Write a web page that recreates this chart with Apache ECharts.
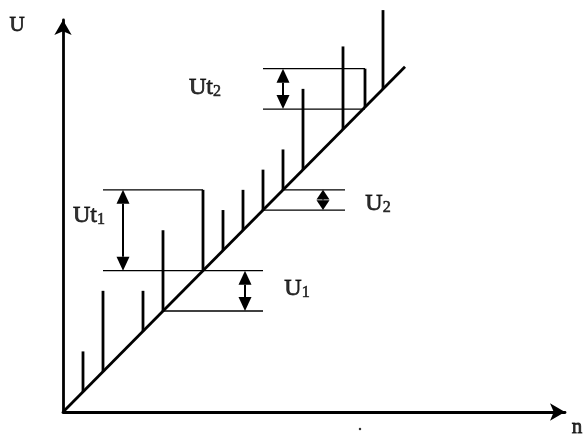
<!DOCTYPE html>
<html lang="en">
<head>
    <meta charset="UTF-8">
    <title>U - n</title>
    <style>
        html, body { margin: 0; padding: 0; background: #fff; }
        #main { width: 584px; height: 436px; }
    </style>
</head>
<body>
<div id="main"></div>
<script src="https://cdn.jsdelivr.net/npm/echarts@6/dist/echarts.min.js"></script>
<script>
    // spikes: position on n and top value of U (each one starts on the line U = n)
    const spikeN   = [1, 2, 4, 5, 7, 8, 9, 10, 11, 12, 14, 15.1, 16];
    const spikeTop = [3, 6, 6, 9, 11, 10, 11, 12, 13, 16, 18.1, 17, 19.9];

    // the sloped line U = n
    const slopeN = [0, 17.1];

    // thin horizontal guide lines: level U, from n, to n
    const guideU    = [11, 7, 5, 11, 10, 17, 15];
    const guideFrom = [2, 2, 5, 11, 10, 10, 10];
    const guideTo   = [7, 10, 10, 14.1, 14.1, 15.1, 15.1];

    // double arrows: at n, from U, to U
    const arrowN    = [3, 9.1, 13, 11];
    const arrowLow  = [7, 5, 10, 15];
    const arrowHigh = [11, 7, 11, 17];

    // text labels (main part + subscript) and where they sit
    const labelMain = ['U', 'n', 'Ut', 'Ut', 'U', 'U'];
    const labelSub  = ['', '', '1', '2', '1', '2'];
    const labelN    = [-2.3, 25.7, 1.3, 7.1, 11.7, 15.75];
    const labelU    = [19.15, -0.75, 9.7, 16.05, 6.1, 10.3];

    // a speck of dust under the n axis
    const speckN = [14.85];
    const speckU = [-0.84];

    const font = 'Liberation Serif';
    const ink = '#000';

    const myChart = echarts.init(document.getElementById('main'));

    const axisCommon = {
        type: 'value',
        min: 0,
        axisLine: {
            show: true,
            symbol: ['none', 'arrow'],
            symbolSize: [13, 15],
            lineStyle: { color: ink, width: 2.8 }
        },
        axisTick: { show: false },
        axisLabel: { show: false },
        splitLine: { show: false }
    };

    const option = {
        animation: false,
        backgroundColor: '#fff',
        grid: { left: 63, top: 20, width: 502, height: 392 },
        xAxis: Object.assign({}, axisCommon, { max: 25.1 }),
        yAxis: Object.assign({}, axisCommon, { max: 19.41 }),
        series: [
            {
                // U = n
                type: 'line',
                data: slopeN.map(n => [n, n]),
                showSymbol: false,
                lineStyle: { color: ink, width: 2.8 },
                z: 3
            },
            {
                // spikes
                type: 'custom',
                data: spikeN.map((n, i) => [n, spikeTop[i]]),
                renderItem: function (params, api) {
                    const n = api.value(0);
                    const p0 = api.coord([n, n]);
                    const p1 = api.coord([n, api.value(1)]);
                    return {
                        type: 'line',
                        shape: { x1: p0[0], y1: p0[1], x2: p1[0], y2: p1[1] },
                        style: { stroke: ink, lineWidth: 2.8 }
                    };
                },
                z: 4
            },
            {
                // guide lines
                type: 'custom',
                data: guideU.map((u, i) => [u, guideFrom[i], guideTo[i]]),
                encode: { x: [1, 2], y: 0 },
                renderItem: function (params, api) {
                    const u = api.value(0);
                    const a = api.coord([api.value(1), u]);
                    const b = api.coord([api.value(2), u]);
                    return {
                        type: 'line',
                        shape: { x1: a[0], y1: a[1], x2: b[0], y2: b[1] },
                        style: { stroke: ink, lineWidth: 1.3 }
                    };
                },
                z: 2
            },
            {
                // double arrows
                type: 'custom',
                data: arrowN.map((n, i) => [n, arrowLow[i], arrowHigh[i]]),
                encode: { x: 0, y: [1, 2] },
                renderItem: function (params, api) {
                    const lo = api.coord([api.value(0), api.value(1)]);
                    const hi = api.coord([api.value(0), api.value(2)]);
                    const x = lo[0];
                    const len = lo[1] - hi[1];
                    const head = Math.min(14, len * 0.48);
                    const hw = 6.5;
                    return {
                        type: 'group',
                        children: [
                            {
                                type: 'line',
                                shape: { x1: x, y1: hi[1] + head, x2: x, y2: lo[1] - head },
                                style: { stroke: ink, lineWidth: 2 }
                            },
                            {
                                type: 'polygon',
                                shape: { points: [[x, hi[1]], [x - hw, hi[1] + head], [x + hw, hi[1] + head]] },
                                style: { fill: ink }
                            },
                            {
                                type: 'polygon',
                                shape: { points: [[x, lo[1]], [x - hw, lo[1] - head], [x + hw, lo[1] - head]] },
                                style: { fill: ink }
                            }
                        ]
                    };
                },
                z: 5
            },
            {
                // labels
                type: 'scatter',
                clip: false,
                symbolSize: 0,
                data: labelN.map((n, i) => [n, labelU[i]]),
                label: {
                    show: true,
                    position: 'inside',
                    formatter: function (p) {
                        const i = p.dataIndex;
                        if (!labelSub[i]) return '{a|' + labelMain[i] + '}';
                        return '{m|' + labelMain[i] + '}{s|' + labelSub[i] + '}';
                    },
                    rich: {
                        a: { fontFamily: font, fontSize: 21, color: ink, textBorderColor: ink, textBorderWidth: 0.8 },
                        m: { fontFamily: font, fontSize: 24, color: ink, textBorderColor: ink, textBorderWidth: 0.8 },
                        s: { fontFamily: font, fontSize: 16, color: ink, textBorderColor: ink, textBorderWidth: 0.6, verticalAlign: 'bottom' }
                    }
                },
                z: 6
            },
            {
                type: 'scatter',
                clip: false,
                symbolSize: 2.5,
                itemStyle: { color: ink },
                data: speckN.map((n, i) => [n, speckU[i]])
            }
        ]
    };

    myChart.setOption(option);
</script>
</body>
</html>
